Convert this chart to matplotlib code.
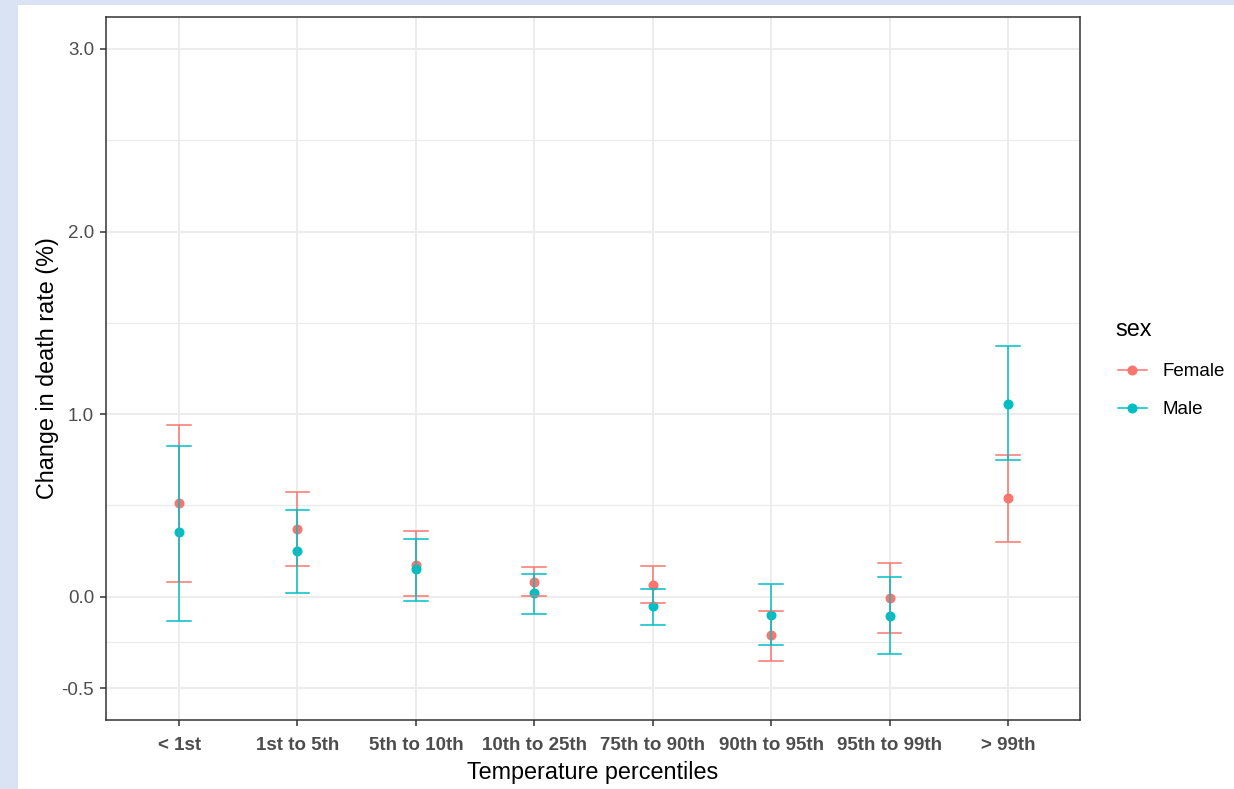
# coding: utf-8

import numpy as np
import matplotlib.pyplot as plt
from matplotlib.lines import Line2D
from matplotlib.patches import Rectangle

plt.rcParams['font.family'] = ['Liberation Sans', 'DejaVu Sans']

categories = ['< 1st', '1st to 5th', '5th to 10th', '10th to 25th',
              '75th to 90th', '90th to 95th', '95th to 99th', '> 99th']

female_est = [0.512, 0.372, 0.175, 0.080, 0.066, -0.211, -0.007, 0.539]
female_lo = [0.082, 0.169, 0.002, 0.002, -0.035, -0.351, -0.200, 0.300]
female_hi = [0.940, 0.572, 0.360, 0.162, 0.171, -0.077, 0.186, 0.778]

male_est = [0.353, 0.250, 0.153, 0.020, -0.053, -0.098, -0.105, 1.056]
male_lo = [-0.131, 0.020, -0.024, -0.095, -0.157, -0.262, -0.315, 0.750]
male_hi = [0.828, 0.475, 0.317, 0.126, 0.044, 0.071, 0.108, 1.374]

y_breaks = [-0.5, 0.0, 1.0, 2.0, 3.0]
y_minor = [-0.25, 0.5, 1.5, 2.5]

COL_F = '#F8766D'
COL_M = '#00BFC4'
W, H = 1234, 789


def px(x, y):
    # pixel (from top-left) -> figure fraction
    return x / W, 1 - y / H


def draw_series(ax, x, est, col):
    ax.plot(x, est, 'o', color=col, markersize=6.2, zorder=3)


def draw_bars(ax, x, lo, hi, col):
    cap = 0.1
    for xi, l, h in zip(x, lo, hi):
        ax.plot([xi, xi], [l, h], color=col, lw=1.1, zorder=4,
                solid_capstyle='butt')
        ax.plot([xi - cap, xi + cap], [l, l], color=col, lw=1.1, zorder=4)
        ax.plot([xi - cap, xi + cap], [h, h], color=col, lw=1.1, zorder=4)


def draw_legend(fig):
    fig.text(*px(1115, 330), 'sex', fontsize=16.8, ha='left', va='center',
             color='black')
    for lab, col, yy in [('Female', COL_F, 370), ('Male', COL_M, 408)]:
        x0, y0 = px(1118, yy)
        x1, _ = px(1147, yy)
        xm, _ = px(1132, yy)
        fig.add_artist(Line2D([x0, x1], [y0, y0], color=col, lw=1.1,
                              transform=fig.transFigure))
        fig.add_artist(Line2D([xm], [y0], marker='o', color=col,
                              markersize=6.2, transform=fig.transFigure))
        fig.text(*px(1163, yy + 2), lab, fontsize=13.5, ha='left',
                 va='center', color='black')


def main():
    fig = plt.figure(figsize=(W / 100, H / 100), dpi=100)
    fig.patch.set_facecolor('#DAE3F3')
    fig.add_artist(Rectangle(px(18, 789), (W - 18) / W, (789 - 5) / H,
                             transform=fig.transFigure, facecolor='white',
                             edgecolor='none', zorder=0))

    l, b = px(106, 720)
    r, t = px(1080, 17)
    ax = fig.add_axes([l, b, r - l, t - b])
    ax.set_facecolor('white')

    x = np.arange(len(categories))
    ax.set_xlim(-0.617, len(categories) - 1 + 0.608)
    ax.set_ylim(-0.5 - 0.175, 3.0 + 0.175)

    for yv in y_minor:
        ax.axhline(yv, color='#EBEBEB', lw=0.9, zorder=1)
    for yv in y_breaks:
        ax.axhline(yv, color='#EBEBEB', lw=1.3, zorder=1)
    for xv in x:
        ax.axvline(xv, color='#EBEBEB', lw=1.3, zorder=1)

    draw_series(ax, x, female_est, COL_F)
    draw_series(ax, x, male_est, COL_M)
    draw_bars(ax, x, female_lo, female_hi, COL_F)
    draw_bars(ax, x, male_lo, male_hi, COL_M)

    ax.set_yticks(y_breaks)
    ax.set_yticklabels(['%.1f' % v for v in y_breaks])
    ax.set_xticks(x)
    ax.set_xticklabels(categories, fontweight='bold')
    ax.tick_params(axis='both', colors='#333333', length=4, width=1.1,
                   labelcolor='#4D4D4D', labelsize=13.5)
    ax.tick_params(axis='x', pad=8)
    ax.tick_params(axis='y', pad=4.5)
    for s in ax.spines.values():
        s.set_color('#333333')
        s.set_linewidth(1.1)
        s.set_zorder(5)

    ax.set_xlabel('Temperature percentiles', fontsize=16.8, labelpad=5)
    ax.set_ylabel('Change in death rate (%)', fontsize=16.8, labelpad=2)

    draw_legend(fig)

    plt.savefig('out.png', dpi=100, facecolor=fig.get_facecolor())

    return


if __name__ == "__main__":
    main()
